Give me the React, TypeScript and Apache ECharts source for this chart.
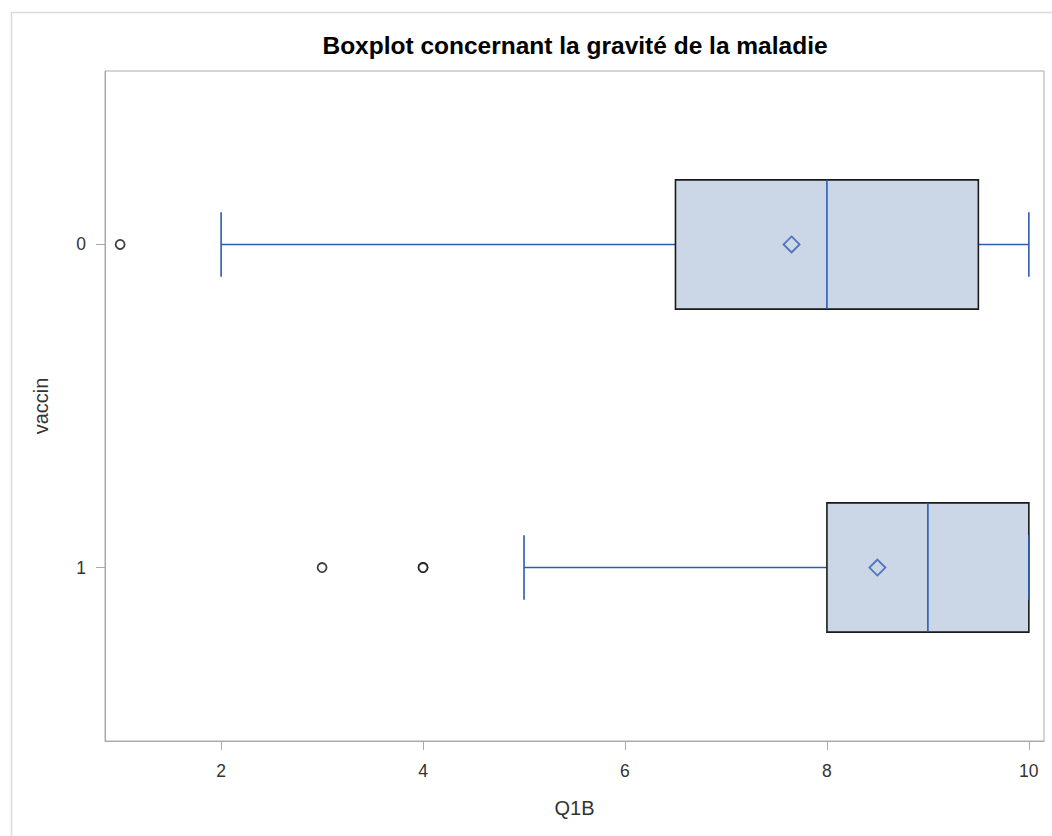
import React, { useEffect, useRef } from "react";
import * as echarts from "echarts";

const TITLE = "Boxplot concernant la gravité de la maladie";
const X_NAME = "Q1B";
const Y_NAME = "vaccin";
const GROUPS = [0, 1];
const GROUP_LABELS = ["0", "1"];
// [low whisker, Q1, median, Q3, high whisker]
const BOX_STATS = [
  [2, 6.5, 8, 9.5, 10],
  [5, 8, 9, 10, 10],
];
const MEANS = [7.65, 8.5];
const OUTLIERS_0 = [1];
const OUTLIERS_1 = [3, 4, 4];
const X_TICKS = [2, 4, 6, 8, 10];

const BLUE = "#2D5BB3";
const FILL = "#CBD6E6";
const GRID_GREY = "#A6AAAE";
const FONT = "'Liberation Sans', Arial, sans-serif";

export default function App() {
  const ref = useRef<HTMLDivElement>(null);
  useEffect(() => {
    if (!ref.current) return;
    const chart = echarts.init(ref.current, null, { renderer: "svg" });
    const boxData = GROUPS.map((g, i) => [g, ...BOX_STATS[i]]);
    const meanData = GROUPS.map((g, i) => [MEANS[i], g]);
    const outlierData = [
      ...OUTLIERS_0.map((v) => [v, GROUPS[0]]),
      ...OUTLIERS_1.map((v) => [v, GROUPS[1]]),
    ];
    const option: any = {
      animation: false,
      backgroundColor: "#fff",
      textStyle: { fontFamily: FONT },
      title: {
        text: TITLE,
        left: 570,
        textAlign: "center",
        top: 28,
        textStyle: { fontFamily: FONT, fontSize: 24.5, fontWeight: "bold", color: "#000" },
      },
      graphic: [
        {
          type: "rect",
          shape: { x: 11.5, y: 12.5, width: 1100, height: 900 },
          style: { fill: "none", stroke: "#D8DBDF", lineWidth: 1.5 },
          silent: true,
          z: -10,
        },
      ],
      grid: {
        left: 105,
        right: 8,
        top: 71,
        bottom: 95,
        show: true,
        borderColor: GRID_GREY,
        borderWidth: 1,
        backgroundColor: "transparent",
      },
      xAxis: {
        type: "value",
        min: 0.85,
        max: 10.15,
        name: X_NAME,
        nameLocation: "middle",
        nameGap: 57,
        nameTextStyle: { fontFamily: FONT, fontSize: 20, color: "#333" },
        axisLine: { show: true, onZero: false, lineStyle: { color: GRID_GREY } },
        axisTick: { show: true, length: 9, lineStyle: { color: GRID_GREY }, customValues: X_TICKS },
        axisLabel: {
          customValues: X_TICKS,
          margin: 21,
          fontFamily: FONT,
          fontSize: 17.5,
          color: "#333",
        },
        splitLine: { show: false },
      },
      yAxis: {
        type: "value",
        inverse: true,
        min: -0.537,
        max: 1.537,
        name: Y_NAME,
        nameLocation: "middle",
        nameGap: 54,
        nameTextStyle: { fontFamily: FONT, fontSize: 20, color: "#333" },
        axisLine: { show: true, onZero: false, lineStyle: { color: GRID_GREY } },
        axisTick: { show: true, length: 9, lineStyle: { color: GRID_GREY }, customValues: GROUPS },
        axisLabel: {
          customValues: GROUPS,
          margin: 19,
          fontFamily: FONT,
          fontSize: 17.5,
          color: "#333",
          formatter: (v: number) => GROUP_LABELS[GROUPS.indexOf(Math.round(v))] ?? "",
        },
        splitLine: { show: false },
      },
      series: [
        {
          type: "custom",
          data: boxData,
          encode: { x: [1, 2, 3, 4, 5], y: 0 },
          z: 2,
          renderItem: (params: any, api: any) => {
            const y = api.value(0);
            const low = api.value(1);
            const q1 = api.value(2);
            const med = api.value(3);
            const q3 = api.value(4);
            const high = api.value(5);
            const c = (x: number, yy: number) => api.coord([x, yy]);
            const yc = c(low, y)[1];
            const yTop = c(low, y - 0.2)[1];
            const yBot = c(low, y + 0.2)[1];
            const cTop = c(low, y - 0.1)[1];
            const cBot = c(low, y + 0.1)[1];
            const xLow = c(low, y)[0];
            const xQ1 = c(q1, y)[0];
            const xMed = c(med, y)[0];
            const xQ3 = c(q3, y)[0];
            const xHigh = c(high, y)[0];
            const blue = { stroke: BLUE, lineWidth: 1.6 };
            const children: any[] = [
              { type: "line", shape: { x1: xLow, y1: yc, x2: xQ1, y2: yc }, style: blue },
              { type: "line", shape: { x1: xQ3, y1: yc, x2: xHigh, y2: yc }, style: blue },
              {
                type: "rect",
                shape: { x: xQ1, y: Math.min(yTop, yBot), width: xQ3 - xQ1, height: Math.abs(yBot - yTop) },
                style: { fill: FILL, stroke: "#1a1a1a", lineWidth: 1.6 },
              },
              { type: "line", shape: { x1: xMed, y1: yTop, x2: xMed, y2: yBot }, style: blue },
              { type: "line", shape: { x1: xLow, y1: cTop, x2: xLow, y2: cBot }, style: blue },
              { type: "line", shape: { x1: xHigh, y1: cTop, x2: xHigh, y2: cBot }, style: blue },
            ];
            return { type: "group", children };
          },
        },
        {
          type: "scatter",
          data: meanData,
          symbol: "diamond",
          symbolSize: [16, 16],
          z: 3,
          itemStyle: { color: "rgba(0,0,0,0)", borderColor: BLUE, borderWidth: 1.8 },
        },
        {
          type: "scatter",
          data: outlierData,
          symbol: "circle",
          symbolSize: 9,
          z: 3,
          itemStyle: { color: "#fff", borderColor: "#111", borderWidth: 1.8 },
        },
      ],
    };
    chart.setOption(option);
    return () => chart.dispose();
  }, []);
  return (
    <div
      ref={ref}
      style={{ position: "absolute", left: 0, top: 0, width: 1052, height: 836 }}
    />
  );
}
